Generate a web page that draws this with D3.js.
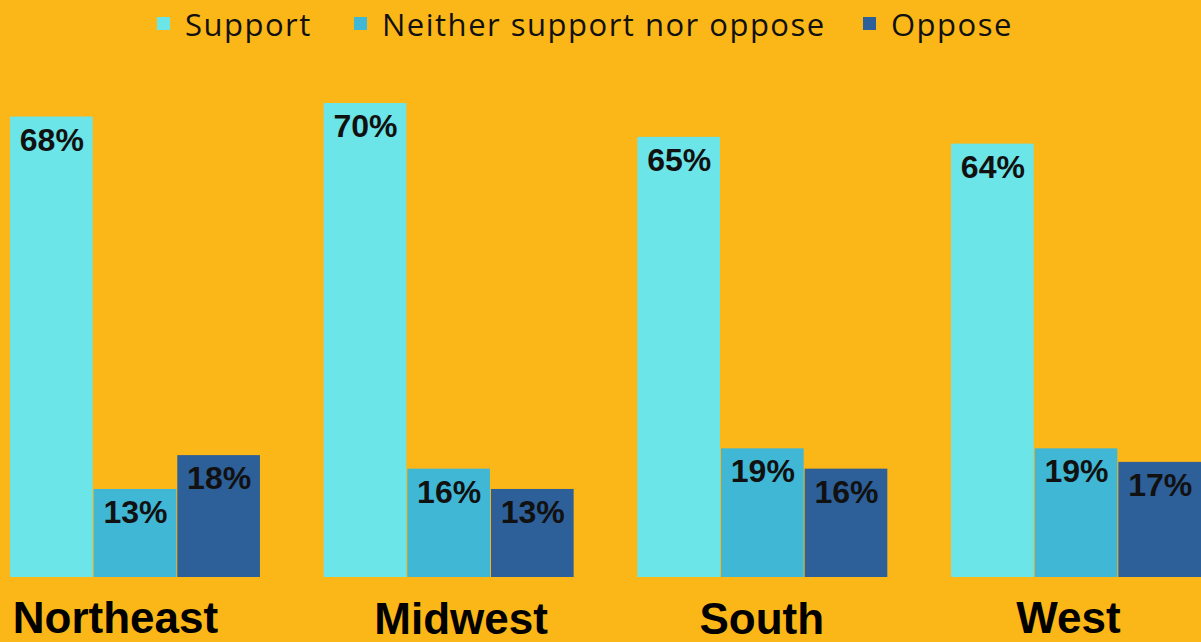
<!DOCTYPE html>
<html>
<head>
<meta charset="utf-8">
<script src="https://cdn.jsdelivr.net/npm/d3@7"></script>
<style>
  html, body { margin: 0; padding: 0; background: #FBB617; }
  svg { display: block; }
</style>
</head>
<body>
<svg id="canvas" width="1201" height="642"></svg>
<script>
// chart data
let regions = ["Northeast", "Midwest", "South", "West"]
let seriesNames = ["Support", "Neither support nor oppose", "Oppose"]
let supportValues = [68, 70, 65, 64]
let neitherValues = [13, 16, 19, 19]
let opposeValues = [18, 13, 16, 17]

let colors = ["#6CE5E8", "#41B7D6", "#2D5F98"]

// small nudges so region names sit where the original put them
let regionDx = [-20, 12, -1, -8]
let regionY = [633, 634, 634, 633]

let svg = d3.select('#canvas')

let rows = regions.map((r, i) => {
    return {region: r, values: [supportValues[i], neitherValues[i], opposeValues[i]]}
})

let x0 = d3.scaleBand()
           .domain(regions)
           .range([10, 1202])
           .paddingInner(0.2)
           .paddingOuter(0)

let x1 = d3.scaleBand()
           .domain(seriesNames)
           .range([0, x0.bandwidth()])
           .padding(0)

let y = d3.scaleLinear()
          .domain([0, 70])
          .range([577, 103])

let color = d3.scaleOrdinal()
              .domain(seriesNames)
              .range(colors)

let groups = svg.selectAll('g.group')
    .data(rows)
    .enter()
    .append('g')
    .attr('class', 'group')
    .attr('transform', (d) => 'translate(' + x0(d.region) + ',0)')

let cells = groups.selectAll('g.cell')
    .data((d) => d.values.map((v, j) => ({name: seriesNames[j], value: v})))
    .enter()
    .append('g')
    .attr('class', 'cell')

cells.append('rect')
     .attr('x', (d) => x1(d.name))
     .attr('y', (d) => y(d.value))
     .attr('width', x1.bandwidth() - 1)
     .attr('height', (d) => y(0) - y(d.value))
     .attr('fill', (d) => color(d.name))

cells.append('text')
     .text((d) => d.value + '%')
     .attr('x', (d) => x1(d.name) + x1.bandwidth() / 2)
     .attr('y', (d) => y(d.value) + 34)
     .attr('text-anchor', 'middle')
     .attr('font-family', 'Liberation Sans, Arial, sans-serif')
     .attr('font-weight', 'bold')
     .attr('font-size', 32)
     .attr('fill', '#111')

// region names under the groups
svg.selectAll('text.region')
   .data(regions)
   .enter()
   .append('text')
   .attr('class', 'region')
   .text((d) => d)
   .attr('x', (d, i) => x0(d) + x0.bandwidth() / 2 + regionDx[i])
   .attr('y', (d, i) => regionY[i])
   .attr('text-anchor', 'middle')
   .attr('font-family', 'Liberation Sans, Arial, sans-serif')
   .attr('font-weight', 'bold')
   .attr('font-size', 44)
   .attr('fill', '#000')

// legend on top
let legendX = [157, 354, 863]
let legend = svg.selectAll('g.legend')
    .data(seriesNames)
    .enter()
    .append('g')
    .attr('class', 'legend')
    .attr('transform', (d, i) => 'translate(' + legendX[i] + ',0)')

legend.append('rect')
      .attr('x', 0)
      .attr('y', 17)
      .attr('width', 13)
      .attr('height', 13)
      .attr('fill', (d) => color(d))

legend.append('text')
      .text((d) => d)
      .attr('x', 28)
      .attr('y', 36)
      .attr('font-family', 'Open Sans, sans-serif')
      .attr('font-size', 31)
      .attr('letter-spacing', 1.5)
      .attr('fill', '#111')
</script>
</body>
</html>
